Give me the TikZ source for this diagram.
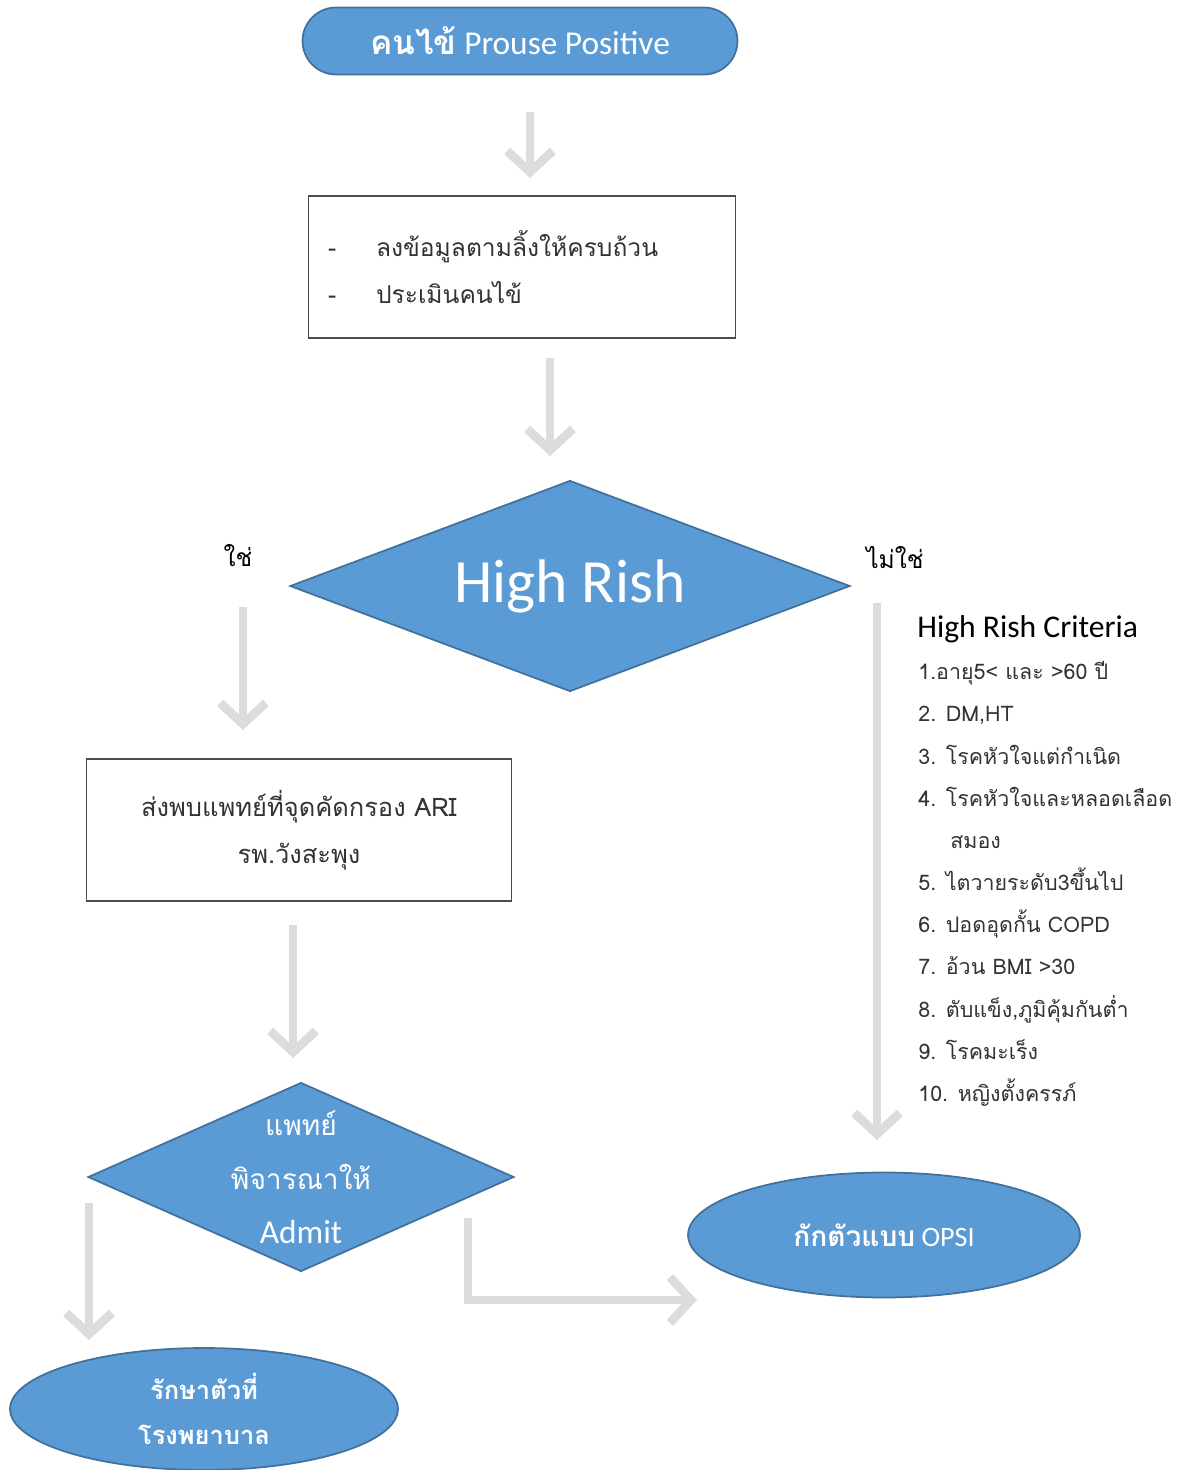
\documentclass[tikz,border=0pt]{standalone}
\usepackage{fontspec}
\setmainfont{Carlito}
\newfontfamily\thaifont[Script=Thai]{Loma}
\usetikzlibrary{arrows.meta,shapes.geometric,positioning}
\definecolor{boxblue}{HTML}{5B9BD5}
\definecolor{boxline}{HTML}{41719C}
\definecolor{arrowgray}{HTML}{DCDCDC}

\begin{document}
\begin{tikzpicture}[x=0.02cm,y=-0.02cm,
  blob/.style={fill=boxblue,draw=boxline,line width=1pt,text=white,align=center},
  term/.style={blob,rectangle,rounded corners=0.67cm,minimum width=8.7cm,minimum height=1.34cm},
  oval/.style={blob,ellipse,inner sep=0pt},
  decide/.style={blob,diamond,inner sep=0pt},
  inside/.style={text=white,align=center,inner sep=0pt},
  card/.style={draw=black!70,line width=0.6pt,rectangle,text=black!80},
  flowarr/.style={draw=arrowgray,line width=5pt,-{Straight Barb[length=12pt,width=26pt]}}]
\useasboundingbox (0,0) rectangle (1187,1470);

\node[term,font=\fontsize{19}{22}\selectfont] (a) at (520,41) {{\thaifont\bfseries คนไข้} Prouse Positive};
\node[card,minimum width=8.56cm,minimum height=2.84cm,text width=7.76cm,align=left,
  font=\thaifont\fontsize{14}{26.7}\selectfont] (b) at (522,267)
  {\makebox[0.96cm][l]{-}ลงข้อมูลตามลิ้งให้ครบถ้วน\\\makebox[0.96cm][l]{-}ประเมินคนไข้\\[-0.3cm]};
\node[decide,minimum width=11.2cm,minimum height=4.22cm,
  label={[inside,font=\fontsize{35}{38}\selectfont]center:High Rish}] (c) at (570,586) {};
\node[font=\thaifont\fontsize{14}{16}\selectfont] (yes) at (238,556) {ใช่};
\node[font=\thaifont\fontsize{14}{16}\selectfont] (no) at (895,558) {ไม่ใช่};
\node[anchor=west,inner sep=0pt,font=\fontsize{18}{20}\selectfont] (h) at (917,629) {High Rish Criteria};
\node[anchor=west,inner sep=0pt,align=left,text=black!80,font=\thaifont\fontsize{12.2}{24}\selectfont] (l) at (918,884)
  {1.อายุ5< และ >60 ปี\\2. DM,HT\\3. โรคหัวใจแต่กำเนิด\\4. โรคหัวใจและหลอดเลือด\\\hspace*{0.64cm}สมอง\\
   5. ไตวายระดับ3ขึ้นไป\\6. ปอดอุดกั้น COPD\\7. อ้วน BMI >30\\8. ตับแข็ง,ภูมิคุ้มกันต่ำ\\9. โรคมะเร็ง\\10. หญิงตั้งครรภ์};
\node[card,minimum width=8.52cm,minimum height=2.84cm,align=center,
  font=\thaifont\fontsize{14.5}{26.7}\selectfont] (d) at (299,830) {ส่งพบแพทย์ที่จุดคัดกรอง ARI\\รพ.วังสะพุง};
\node[decide,minimum width=8.52cm,minimum height=3.78cm,
  label={[inside,font=\fontsize{19}{30.7}\selectfont]center:{\thaifont\fontsize{16}{30.7}\selectfont แพทย์}\\{\thaifont\fontsize{16}{30.7}\selectfont พิจารณาให้}\\Admit}] (e) at (301,1177) {};
\node[oval,minimum width=7.84cm,minimum height=2.5cm,font=\fontsize{16}{20}\selectfont] (f) at (884,1235) {{\thaifont\bfseries กักตัวแบบ} OPSI};
\node[oval,minimum width=7.76cm,minimum height=2.44cm,font=\thaifont\bfseries\fontsize{14.5}{25.6}\selectfont] (g) at (204,1409) {รักษาตัวที่\\โรงพยาบาล};

\coordinate (a1) at (530,112); \coordinate (a2) at (530,178);
\coordinate (b1) at (550,358); \coordinate (b2) at (550,456);
\coordinate (c1) at (243,607); \coordinate (c2) at (243,730);
\coordinate (c3) at (877,603); \coordinate (c4) at (877,1140);
\coordinate (d1) at (293,925); \coordinate (d2) at (293,1058);
\coordinate (e1) at (89,1203); \coordinate (e2) at (89,1340);
\coordinate (e3) at (468,1218); \coordinate (e4) at (697,1300);

\path
(a1) edge[flowarr] (a2)
(b1) edge[flowarr] (b2)
(c1) edge[flowarr] (c2)
(c3) edge[flowarr] (c4)
(d1) edge[flowarr] (d2)
(e1) edge[flowarr] (e2);
\draw[flowarr] (e3) |- (e4);
\end{tikzpicture}
\end{document}
